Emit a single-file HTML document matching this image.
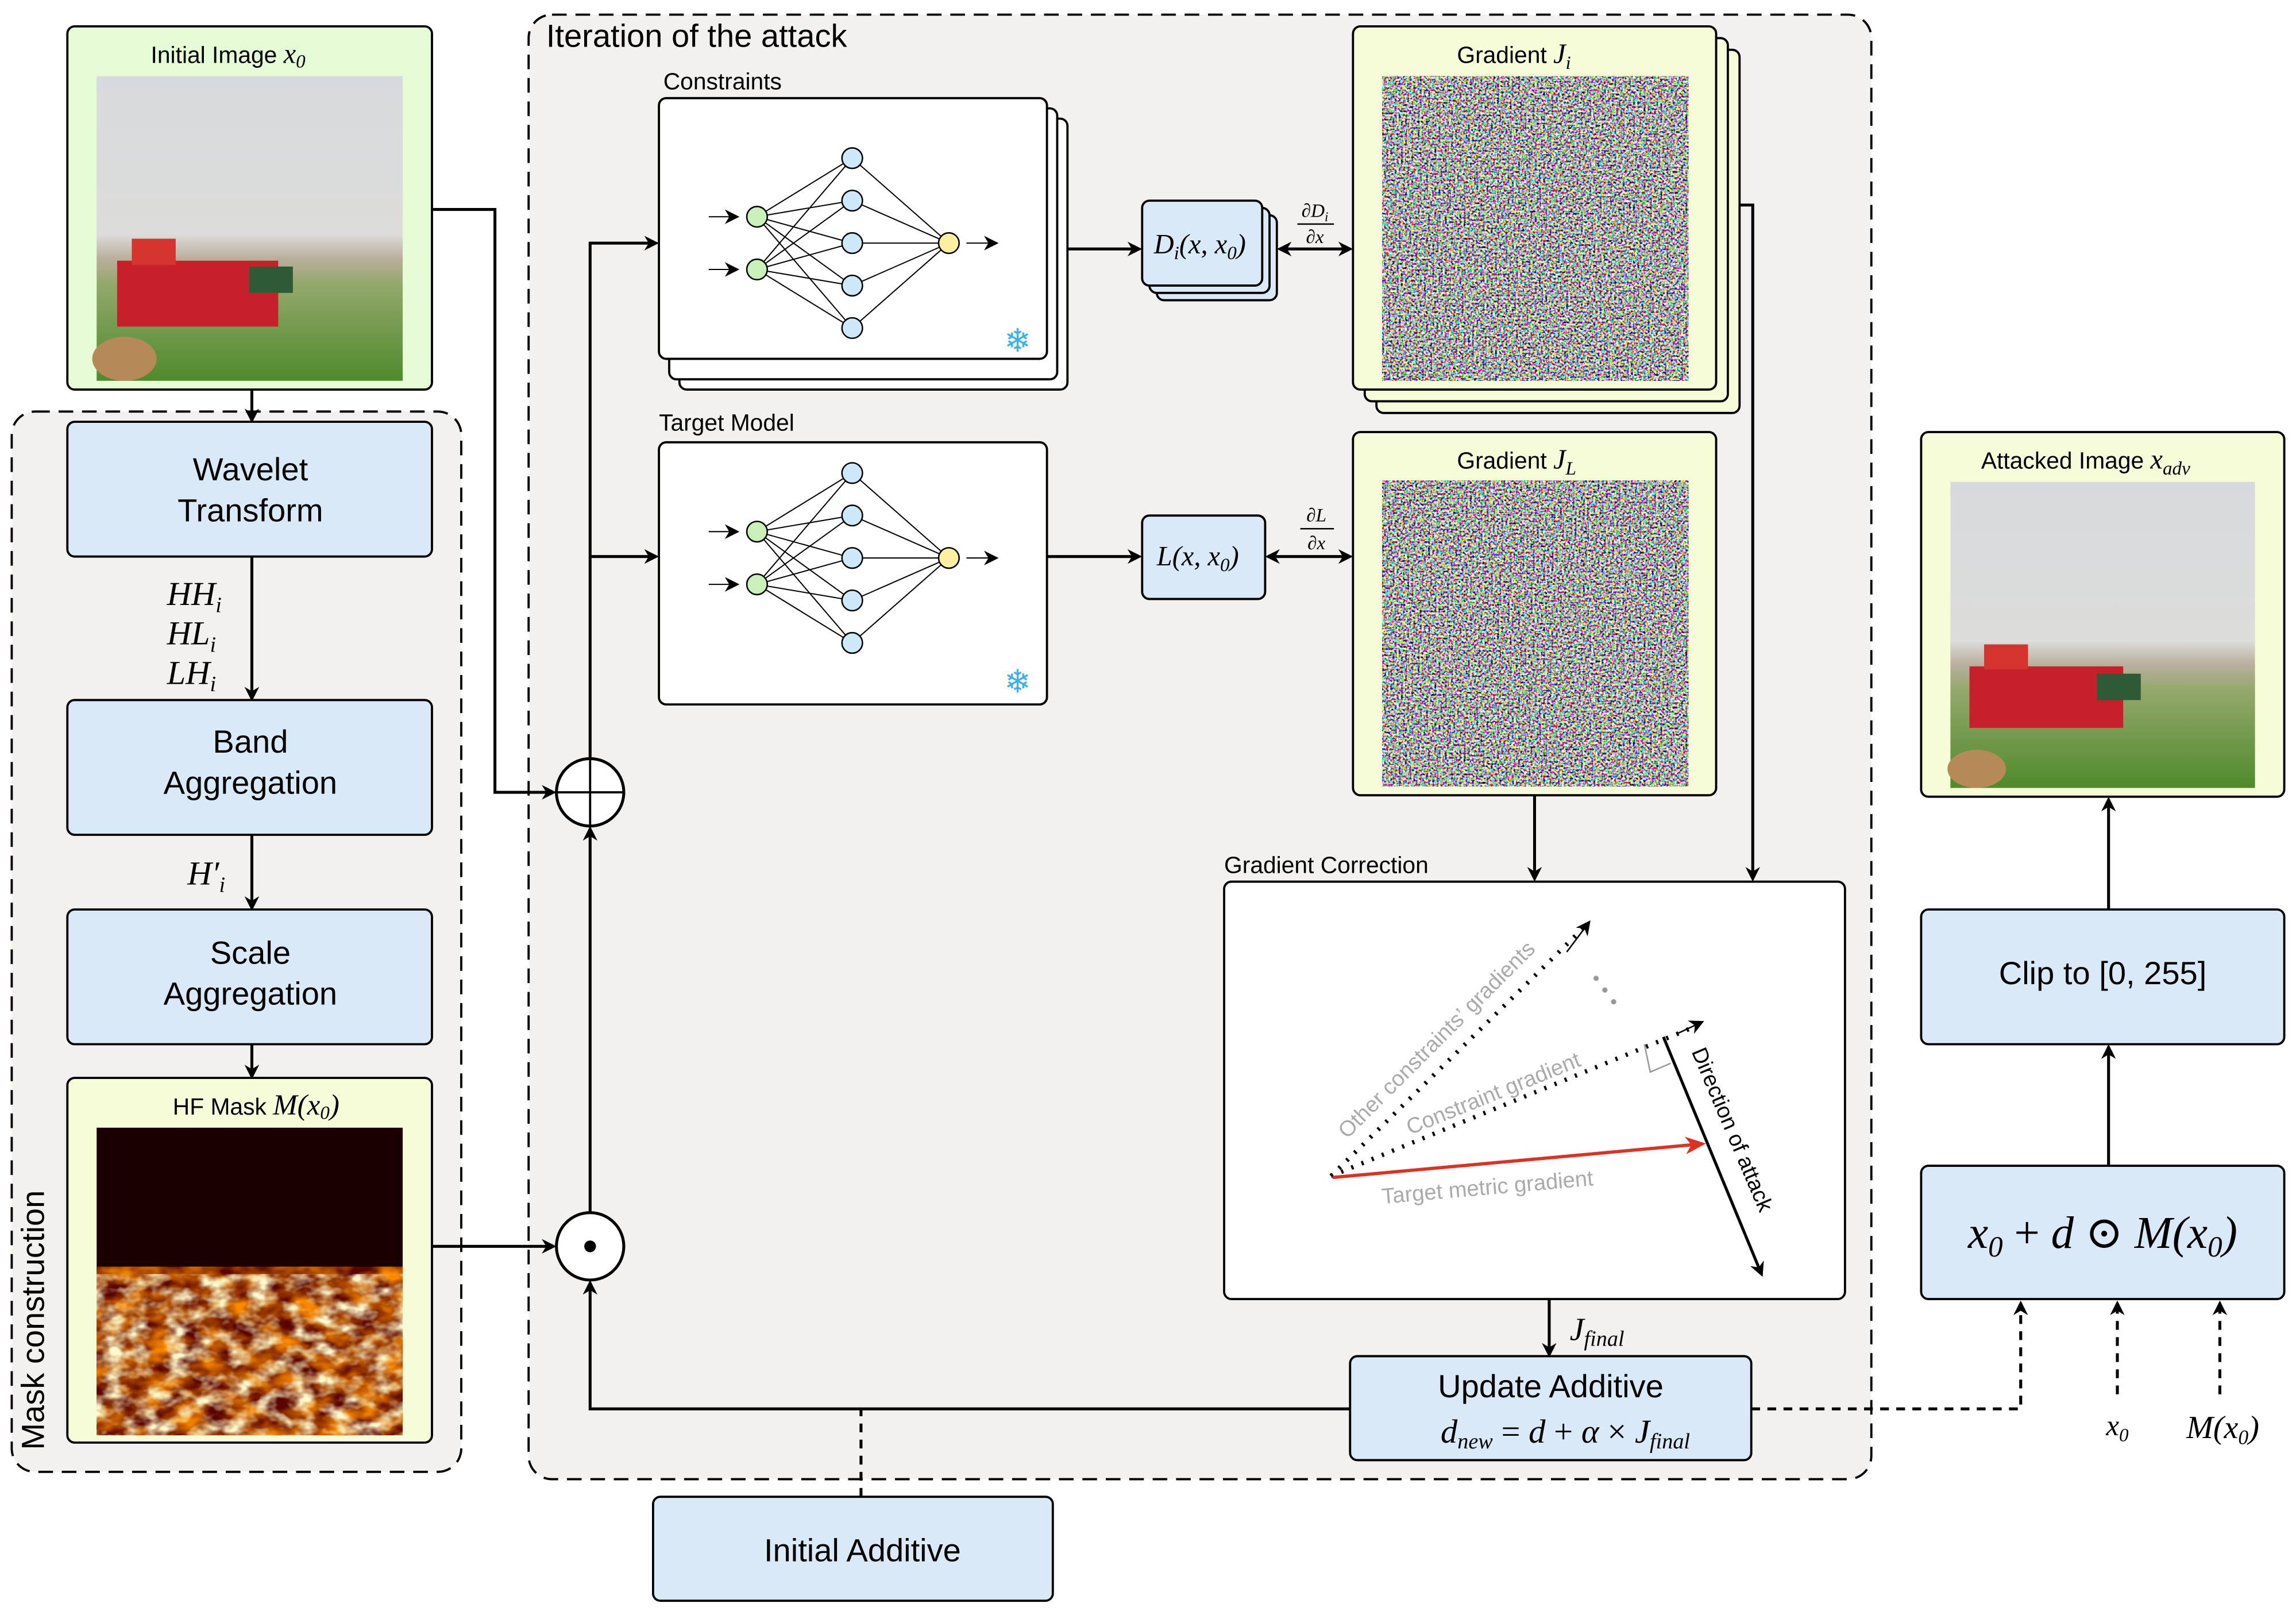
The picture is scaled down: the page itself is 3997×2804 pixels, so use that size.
<!DOCTYPE html>
<html><head><meta charset="utf-8"><style>
html,body{margin:0;padding:0;background:#fff;}
svg{display:block;}
.t{font-family:"Liberation Sans","DejaVu Sans",sans-serif;}
.m{font-family:"Liberation Serif","DejaVu Serif",serif;font-style:italic;}
</style></head><body>
<svg width="3997" height="2804" viewBox="0 0 1568 1100" xmlns="http://www.w3.org/2000/svg">
<defs>
<marker id="a" markerWidth="10" markerHeight="10" refX="8" refY="5" orient="auto-start-reverse" markerUnits="userSpaceOnUse"><path d="M0,0 L10,5 L0,10 L3,5 z" fill="#000"/></marker>
<marker id="r" markerWidth="14" markerHeight="12" refX="12" refY="6" orient="auto" markerUnits="userSpaceOnUse"><path d="M0,0 L14,6 L0,12 L4,6 z" fill="#e03020"/></marker>
<filter id="noise" x="0" y="0" width="100%" height="100%"><feTurbulence type="fractalNoise" baseFrequency="0.7" numOctaves="2" seed="3"/><feComponentTransfer><feFuncR type="linear" slope="4.5" intercept="-1.75"/><feFuncG type="linear" slope="4.5" intercept="-1.75"/><feFuncB type="linear" slope="4.5" intercept="-1.75"/><feFuncA type="linear" slope="0" intercept="1"/></feComponentTransfer></filter>
<filter id="fire" x="0" y="0" width="100%" height="100%"><feTurbulence type="fractalNoise" baseFrequency="0.05 0.08" numOctaves="3" seed="7"/><feColorMatrix type="matrix" values="0 0 0 0 0.95  0 0 0 0 0.25  0 0 0 0 0  2 0 0 0 -0.6"/></filter>
<filter id="fire2" x="0" y="0" width="100%" height="100%"><feTurbulence type="fractalNoise" baseFrequency="0.07 0.1" numOctaves="3" seed="11"/><feColorMatrix type="matrix" values="0 0 0 0 1  0 0 0 0 0.95  0 0 0 0 0.6  2.6 0 0 0 -1.05"/></filter>
<linearGradient id="sky" x1="0" y1="0" x2="0" y2="1"><stop offset="0" stop-color="#d7dadd"/><stop offset="0.52" stop-color="#dcdcda"/><stop offset="0.6" stop-color="#b9ae9c"/><stop offset="0.68" stop-color="#94a86c"/><stop offset="1" stop-color="#4f8a2c"/></linearGradient>
</defs>

<!-- Mask construction dashed -->
<rect x="8" y="281" width="307" height="724" rx="16" fill="#f2f1f0" stroke="#000" stroke-width="1.5" stroke-dasharray="10,6"/>
<text class="t" x="30" y="990" font-size="22" transform="rotate(-90 30 990)">Mask construction</text>

<!-- Iteration dashed -->
<rect x="361" y="10" width="917" height="1000" rx="16" fill="#f2f1f0" stroke="#000" stroke-width="1.5" stroke-dasharray="10,6"/>
<text class="t" x="373" y="32" font-size="22">Iteration of the attack</text>

<!-- Initial image -->
<rect x="46" y="18" width="249" height="248" rx="5" fill="#e4fbd6" stroke="#000" stroke-width="1.5"/>
<text class="t" x="103" y="43" font-size="16">Initial Image <tspan class="m" font-size="19">x</tspan><tspan class="m" font-size="13" dy="3">0</tspan></text>
<rect x="66" y="52" width="209" height="208" fill="url(#sky)"/>
<rect x="80" y="178" width="110" height="45" fill="#c8202a"/><rect x="90" y="163" width="30" height="18" fill="#d6352f"/><rect x="170" y="182" width="30" height="18" fill="#2e5b35"/>
<ellipse cx="85" cy="245" rx="22" ry="15" fill="#b58a56"/>

<line x1="172" y1="266" x2="172" y2="287" stroke="#000" stroke-width="2" marker-end="url(#a)"/>

<rect x="46" y="288" width="249" height="92" rx="5" fill="#dae9f8" stroke="#000" stroke-width="1.5"/>
<text class="t" x="171" y="328" font-size="22" text-anchor="middle">Wavelet</text>
<text class="t" x="171" y="356" font-size="22" text-anchor="middle">Transform</text>
<line x1="172" y1="380" x2="172" y2="477" stroke="#000" stroke-width="2" marker-end="url(#a)"/>
<text class="m" x="114" y="413" font-size="23">HH<tspan font-size="15" dy="5">i</tspan></text>
<text class="m" x="114" y="440" font-size="23">HL<tspan font-size="15" dy="5">i</tspan></text>
<text class="m" x="114" y="467" font-size="23">LH<tspan font-size="15" dy="5">i</tspan></text>

<rect x="46" y="478" width="249" height="92" rx="5" fill="#dae9f8" stroke="#000" stroke-width="1.5"/>
<text class="t" x="171" y="514" font-size="22" text-anchor="middle">Band</text>
<text class="t" x="171" y="542" font-size="22" text-anchor="middle">Aggregation</text>
<line x1="172" y1="570" x2="172" y2="620" stroke="#000" stroke-width="2" marker-end="url(#a)"/>
<text class="m" x="128" y="604" font-size="23">H′<tspan font-size="15" dy="5">i</tspan></text>

<rect x="46" y="621" width="249" height="92" rx="5" fill="#dae9f8" stroke="#000" stroke-width="1.5"/>
<text class="t" x="171" y="658" font-size="22" text-anchor="middle">Scale</text>
<text class="t" x="171" y="686" font-size="22" text-anchor="middle">Aggregation</text>
<line x1="172" y1="713" x2="172" y2="735" stroke="#000" stroke-width="2" marker-end="url(#a)"/>

<rect x="46" y="736" width="249" height="249" rx="5" fill="#f6fbd8" stroke="#000" stroke-width="1.5"/>
<text class="t" x="118" y="761" font-size="16">HF Mask <tspan class="m" font-size="20">M</tspan><tspan class="m" font-size="20">(x</tspan><tspan class="m" font-size="13" dy="3">0</tspan><tspan class="m" font-size="20" dy="-3">)</tspan></text>
<rect x="66" y="770" width="209" height="210" fill="#1a0000"/>
<rect x="66" y="865" width="209" height="115" fill="#5a0500"/>
<rect x="66" y="865" width="209" height="115" filter="url(#fire)"/>
<rect x="66" y="870" width="209" height="110" filter="url(#fire2)"/>

<!-- Constraints -->
<text class="t" x="453" y="61" font-size="16">Constraints</text>
<rect x="464" y="81" width="265" height="185" rx="5" fill="#fff" stroke="#000" stroke-width="1.5"/>
<rect x="457" y="74" width="265" height="185" rx="5" fill="#fff" stroke="#000" stroke-width="1.5"/>
<rect x="450" y="67" width="265" height="178" rx="5" fill="#fff" stroke="#000" stroke-width="1.5"/>
<g id="nn1" stroke="#000" stroke-width="0.8" fill="none">
<path d="M517,148 L582,108 M517,148 L582,137 M517,148 L582,166 M517,148 L582,195 M517,148 L582,224 M517,184 L582,108 M517,184 L582,137 M517,184 L582,166 M517,184 L582,195 M517,184 L582,224 M582,108 L648,166 M582,137 L648,166 M582,166 L648,166 M582,195 L648,166 M582,224 L648,166"/>
<line x1="484" y1="148" x2="503" y2="148" marker-end="url(#a)"/><line x1="484" y1="184" x2="503" y2="184" marker-end="url(#a)"/><line x1="660" y1="166" x2="680" y2="166" marker-end="url(#a)"/>
</g>
<g stroke="#000" stroke-width="1">
<circle cx="517" cy="148" r="7" fill="#c9f0b8"/><circle cx="517" cy="184" r="7" fill="#c9f0b8"/>
<circle cx="582" cy="108" r="7" fill="#cde8f8"/><circle cx="582" cy="137" r="7" fill="#cde8f8"/><circle cx="582" cy="166" r="7" fill="#cde8f8"/><circle cx="582" cy="195" r="7" fill="#cde8f8"/><circle cx="582" cy="224" r="7" fill="#cde8f8"/>
<circle cx="648" cy="166" r="7" fill="#faf0a0"/>
</g>
<text x="695" y="240" font-size="22" fill="#3ab0f0" text-anchor="middle" class="t">❄</text>

<!-- Target model -->
<text class="t" x="450" y="294" font-size="16">Target Model</text>
<rect x="450" y="302" width="265" height="179" rx="5" fill="#fff" stroke="#000" stroke-width="1.5"/>
<use href="#nn1" transform="translate(0,215)"/>
<g stroke="#000" stroke-width="1" transform="translate(0,215)">
<circle cx="517" cy="148" r="7" fill="#c9f0b8"/><circle cx="517" cy="184" r="7" fill="#c9f0b8"/>
<circle cx="582" cy="108" r="7" fill="#cde8f8"/><circle cx="582" cy="137" r="7" fill="#cde8f8"/><circle cx="582" cy="166" r="7" fill="#cde8f8"/><circle cx="582" cy="195" r="7" fill="#cde8f8"/><circle cx="582" cy="224" r="7" fill="#cde8f8"/>
<circle cx="648" cy="166" r="7" fill="#faf0a0"/>
</g>
<text x="695" y="473" font-size="22" fill="#3ab0f0" text-anchor="middle" class="t">❄</text>

<!-- D_i boxes -->
<rect x="790" y="147" width="82" height="58" rx="5" fill="#dae9f8" stroke="#000" stroke-width="1.5"/>
<rect x="785" y="142" width="82" height="58" rx="5" fill="#dae9f8" stroke="#000" stroke-width="1.5"/>
<rect x="780" y="137" width="82" height="58" rx="5" fill="#dae9f8" stroke="#000" stroke-width="1.5"/>
<text class="m" x="788" y="173" font-size="19">D<tspan font-size="13" dy="4">i</tspan><tspan dy="-4">(x, x</tspan><tspan font-size="13" dy="4">0</tspan><tspan dy="-4">)</tspan></text>
<rect x="780" y="352" width="84" height="57" rx="5" fill="#dae9f8" stroke="#000" stroke-width="1.5"/>
<text class="m" x="790" y="386" font-size="19">L(x, x<tspan font-size="13" dy="4">0</tspan><tspan dy="-4">)</tspan></text>

<text class="m" x="898" y="148" font-size="13" text-anchor="middle">∂D<tspan font-size="9" dy="3">i</tspan></text>
<line x1="886" y1="153" x2="911" y2="153" stroke="#000" stroke-width="1"/>
<text class="m" x="898" y="166" font-size="13" text-anchor="middle">∂x</text>
<text class="m" x="899" y="356" font-size="13" text-anchor="middle">∂L</text>
<line x1="888" y1="361" x2="911" y2="361" stroke="#000" stroke-width="1"/>
<text class="m" x="899" y="375" font-size="13" text-anchor="middle">∂x</text>

<!-- Gradient Ji -->
<rect x="940" y="34" width="248" height="248" rx="5" fill="#f6fbd8" stroke="#000" stroke-width="1.5"/>
<rect x="932" y="26" width="248" height="248" rx="5" fill="#f6fbd8" stroke="#000" stroke-width="1.5"/>
<rect x="924" y="18" width="248" height="248" rx="5" fill="#f6fbd8" stroke="#000" stroke-width="1.5"/>
<text class="t" x="995" y="43" font-size="16">Gradient <tspan class="m" font-size="19">J</tspan><tspan class="m" font-size="13" dy="4">i</tspan></text>
<rect x="944" y="52" width="209" height="208" filter="url(#noise)"/>
<!-- Gradient JL -->
<rect x="924" y="295" width="248" height="248" rx="5" fill="#f6fbd8" stroke="#000" stroke-width="1.5"/>
<text class="t" x="995" y="320" font-size="16">Gradient <tspan class="m" font-size="19">J</tspan><tspan class="m" font-size="13" dy="4">L</tspan></text>
<rect x="944" y="328" width="209" height="209" filter="url(#noise)"/>

<!-- Gradient correction -->
<text class="t" x="836" y="596" font-size="16">Gradient Correction</text>
<rect x="836" y="602" width="424" height="285" rx="5" fill="#fff" stroke="#000" stroke-width="1.5"/>
<g stroke="#000" stroke-width="3" stroke-dasharray="1.5,6" fill="none">
<line x1="909" y1="803" x2="1083" y2="632"/>
<line x1="909" y1="803" x2="1160" y2="700"/>
</g>
<line x1="1070" y1="650" x2="1085" y2="630" stroke="#000" stroke-width="1" marker-end="url(#a)"/>
<line x1="1145" y1="706" x2="1162" y2="698" stroke="#000" stroke-width="1" marker-end="url(#a)"/>
<circle cx="1090" cy="668" r="1.8" fill="#999"/><circle cx="1096" cy="676" r="1.8" fill="#999"/><circle cx="1102" cy="684" r="1.8" fill="#999"/>
<line x1="910" y1="804" x2="1163" y2="781" stroke="#e03020" stroke-width="2.2" marker-end="url(#r)"/>
<line x1="1136" y1="708" x2="1203" y2="870" stroke="#000" stroke-width="2" marker-end="url(#a)"/>
<path d="M1123,713 L1127,732 L1141,726" stroke="#999" stroke-width="1" fill="none"/>
<g class="t" fill="#aaa" font-size="15">
<text transform="translate(920,778) rotate(-45)">Other constraints’ gradients</text>
<text transform="translate(963,775) rotate(-22)">Constraint gradient</text>
<text transform="translate(944,822) rotate(-5)">Target  metric gradient</text>
</g>
<text class="t" font-size="15" fill="#000" transform="translate(1155,718) rotate(67)">Direction of attack</text>

<!-- Update Additive -->
<rect x="922" y="926" width="274" height="71" rx="5" fill="#dae9f8" stroke="#000" stroke-width="1.5"/>
<text class="t" x="1059" y="954" font-size="22" text-anchor="middle">Update Additive</text>
<text class="m" x="1069" y="985" font-size="23" text-anchor="middle">d<tspan font-size="15" dy="4">new</tspan><tspan dy="-4" font-style="normal"> = </tspan>d<tspan font-style="normal"> + </tspan>α<tspan font-style="normal"> × </tspan>J<tspan font-size="15" dy="4">final</tspan></text>
<line x1="1058" y1="887" x2="1058" y2="925" stroke="#000" stroke-width="2" marker-end="url(#a)"/>
<text class="m" x="1072" y="915" font-size="22">J<tspan font-size="15" dy="4">final</tspan></text>

<!-- Initial Additive -->
<rect x="446" y="1022" width="273" height="71" rx="5" fill="#dae9f8" stroke="#000" stroke-width="1.5"/>
<text class="t" x="589" y="1066" font-size="22" text-anchor="middle">Initial Additive</text>

<!-- circles -->
<circle cx="403" cy="541" r="23" fill="#fff" stroke="#000" stroke-width="2"/>
<line x1="380" y1="541" x2="426" y2="541" stroke="#000" stroke-width="1.5"/><line x1="403" y1="518" x2="403" y2="564" stroke="#000" stroke-width="1.5"/>
<circle cx="403" cy="851" r="23" fill="#fff" stroke="#000" stroke-width="2"/>
<circle cx="403" cy="851" r="4" fill="#000"/>

<!-- connectors -->
<g stroke="#000" stroke-width="2" fill="none">
<polyline points="295,143 338,143 338,541 378,541" marker-end="url(#a)"/>
<polyline points="403,518 403,166 448,166" marker-end="url(#a)"/>
<line x1="403" y1="380" x2="448" y2="380" marker-end="url(#a)"/>
<line x1="403" y1="828" x2="403" y2="566" marker-end="url(#a)"/>
<line x1="295" y1="851" x2="378" y2="851" marker-end="url(#a)"/>
<polyline points="922,962 403,962 403,876" marker-end="url(#a)"/>
<line x1="729" y1="170" x2="778" y2="170" marker-end="url(#a)"/>
<line x1="874" y1="170" x2="922" y2="170" marker-start="url(#a)" marker-end="url(#a)"/>
<line x1="715" y1="380" x2="778" y2="380" marker-end="url(#a)"/>
<line x1="866" y1="380" x2="922" y2="380" marker-start="url(#a)" marker-end="url(#a)"/>
<line x1="1048" y1="543" x2="1048" y2="600" marker-end="url(#a)"/>
<polyline points="1188,140 1197,140 1197,600" marker-end="url(#a)"/>
<line x1="1440" y1="621" x2="1440" y2="546" marker-end="url(#a)"/>
<line x1="1440" y1="796" x2="1440" y2="715" marker-end="url(#a)"/>
</g>
<g stroke="#000" stroke-width="2" fill="none" stroke-dasharray="6,5">
<line x1="588" y1="1022" x2="588" y2="962"/>
<polyline points="1196,962 1380,962 1380,890" marker-end="url(#a)"/>
<line x1="1446" y1="952" x2="1446" y2="890" marker-end="url(#a)"/>
<line x1="1516" y1="952" x2="1516" y2="890" marker-end="url(#a)"/>
</g>
<text class="m" x="1446" y="980" font-size="20" text-anchor="middle">x<tspan font-size="13" dy="4">0</tspan></text>
<text class="m" x="1518" y="982" font-size="22" text-anchor="middle">M(x<tspan font-size="14" dy="4">0</tspan><tspan dy="-4">)</tspan></text>

<!-- Right column -->
<rect x="1312" y="295" width="248" height="249" rx="5" fill="#f6fbd8" stroke="#000" stroke-width="1.5"/>
<text class="t" x="1353" y="320" font-size="16">Attacked Image <tspan class="m" font-size="19">x</tspan><tspan class="m" font-size="13" dy="4">adv</tspan></text>
<rect x="1332" y="329" width="208" height="209" fill="url(#sky)"/>
<rect x="1345" y="455" width="105" height="42" fill="#c8202a"/><rect x="1355" y="440" width="30" height="17" fill="#d6352f"/><rect x="1432" y="460" width="30" height="18" fill="#2e5b35"/>
<ellipse cx="1350" cy="525" rx="20" ry="13" fill="#b58a56"/>

<rect x="1312" y="621" width="248" height="92" rx="5" fill="#dae9f8" stroke="#000" stroke-width="1.5"/>
<text class="t" x="1436" y="672" font-size="22" text-anchor="middle">Clip to [0, 255]</text>
<rect x="1312" y="796" width="248" height="91" rx="5" fill="#dae9f8" stroke="#000" stroke-width="1.5"/>
<text class="m" x="1436" y="852" font-size="31" text-anchor="middle">x<tspan font-size="20" dy="6">0</tspan><tspan dy="-6" font-style="normal"> + </tspan>d<tspan font-style="normal"> ⊙ </tspan>M(x<tspan font-size="20" dy="6">0</tspan><tspan dy="-6">)</tspan></text>
</svg>
</body></html>
